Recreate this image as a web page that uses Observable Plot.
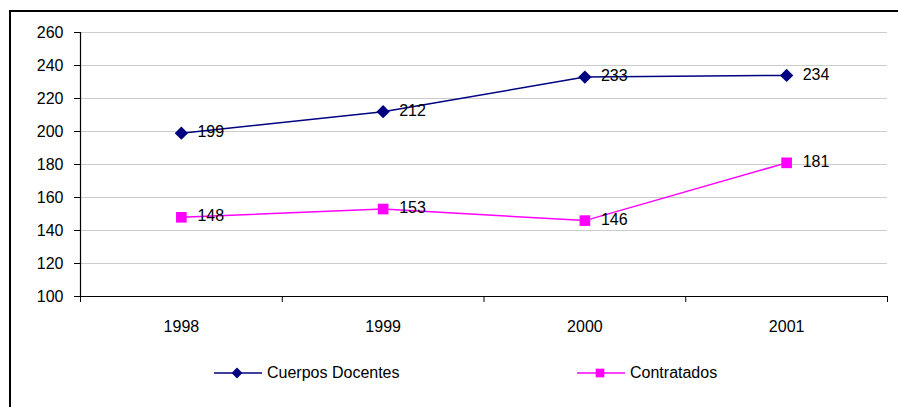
<!DOCTYPE html>
<html><head><meta charset="utf-8">
<script src="https://cdn.jsdelivr.net/npm/d3@7"></script>
<script src="https://cdn.jsdelivr.net/npm/@observablehq/plot@0.6"></script>
<style>
body{margin:0;background:#fff;font-family:"Liberation Sans",Arial,sans-serif;}
#frame{position:absolute;left:9px;top:10px;width:889px;height:397px;border-left:2px solid #000;border-top:2px solid #000;box-sizing:border-box;}
#legend{position:relative;height:30px;font-size:16px;color:#000;}
.item{position:absolute;top:7px;display:flex;align-items:center;gap:5px;}
</style></head><body>
<div id="frame"><div id="chart"></div><div id="legend"></div></div>
<script>
const years = [1998, 1999, 2000, 2001];
const docentes = [199, 212, 233, 234];
const contratados = [148, 153, 146, 181];
const seriesNames = ["Cuerpos Docentes", "Contratados"];
const seriesColors = ["#000080", "#ff00ff"];
const seriesSymbols = ["diamond2", "square"];
const yTicks = [100, 120, 140, 160, 180, 200, 220, 240, 260];

const data = [];
years.forEach((y, i) => {
  data.push({year: y, value: docentes[i], series: seriesNames[0]});
  data.push({year: y, value: contratados[i], series: seriesNames[1]});
});
const bounds = [years[0] - 0.5, ...years.map(y => y + 0.5)];

const chart = Plot.plot({
  width: 887,
  height: 345,
  marginLeft: 69,
  marginRight: 11,
  marginTop: 20,
  marginBottom: 61,
  style: {fontFamily: '"Liberation Sans", Arial, sans-serif', fontSize: "16px", color: "#000", background: "#fff"},
  x: {domain: [bounds[0], bounds[bounds.length - 1]]},
  y: {domain: [100, 260]},
  color: {domain: seriesNames, range: seriesColors},
  symbol: {domain: seriesNames, range: seriesSymbols},
  marks: [
    Plot.gridY(yTicks, {stroke: "#cccccc", strokeOpacity: 1}),
    Plot.axisY(yTicks, {tickSize: 6, tickPadding: 11, label: null, fontSize: 16, stroke: "#000"}),
    Plot.axisX(bounds, {tickSize: 6, tickFormat: () => "", label: null, stroke: "#000"}),
    Plot.axisX(years, {tickSize: 0, tickPadding: 24, tickFormat: d => String(d), label: null, fontSize: 16}),
    Plot.ruleX([bounds[0]], {y1: 100, y2: 260, stroke: "#000", strokeWidth: 1.2}),
    Plot.ruleY([100], {stroke: "#000", strokeWidth: 1.2}),
    Plot.line(data, {x: "year", y: "value", z: "series", stroke: "series", strokeWidth: 1.5}),
    Plot.dot(data, {x: "year", y: "value", symbol: "series", fill: "series", stroke: "none", r: 6}),
    Plot.text(data, {x: "year", y: "value", text: d => String(d.value), dx: 16, dy: -1, textAnchor: "start", fontSize: 16, fill: "#000"})
  ]
});
document.getElementById("chart").appendChild(chart);

const legend = document.getElementById("legend");
const legendLeft = [203, 566];
seriesNames.forEach((name, i) => {
  const item = document.createElement("div");
  item.className = "item";
  item.style.left = legendLeft[i] + "px";
  const svg = d3.create("svg").attr("width", 48).attr("height", 16);
  svg.append("line").attr("x1", 0).attr("x2", 48).attr("y1", 8).attr("y2", 8)
    .attr("stroke", seriesColors[i]).attr("stroke-width", 1.5);
  const sym = i === 0 ? d3.symbolDiamond2 : d3.symbolSquare;
  svg.append("path").attr("d", d3.symbol(sym, i === 0 ? 75 : 75)())
    .attr("transform", "translate(23,8)").attr("fill", seriesColors[i]);
  item.appendChild(svg.node());
  const t = document.createElement("span");
  t.textContent = name;
  item.appendChild(t);
  legend.appendChild(item);
});
</script>
</body></html>
